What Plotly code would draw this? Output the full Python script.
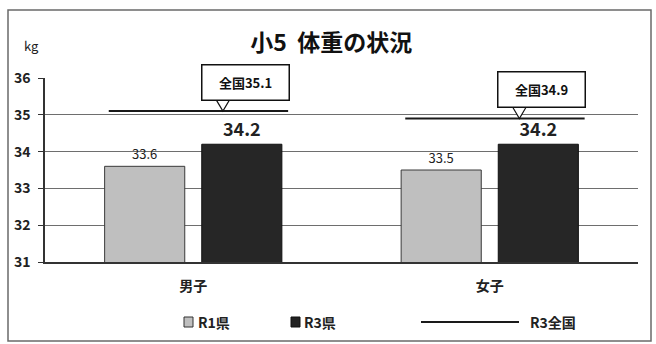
import plotly.graph_objects as go

# Data
categories = ["男子", "女子"]
r1_pref = [33.6, 33.5]      # R1県
r3_pref = [34.2, 34.2]      # R3県
r3_national = [35.1, 34.9]  # R3全国
y_ticks = [31, 32, 33, 34, 35, 36]

FONT = "Noto Sans CJK JP"
x_idx = list(range(len(categories)))

fig = go.Figure()

fig.add_trace(go.Bar(
    x=x_idx, y=r1_pref, name="R1県",
    marker=dict(color="#bfbfbf", line=dict(color="#3a3a3a", width=1)),
    text=[f"{v:.1f}" for v in r1_pref], textposition="outside",
    textfont=dict(family=FONT, size=13, color="#222"),
    cliponaxis=False, showlegend=False,
))
fig.add_trace(go.Bar(
    x=x_idx, y=r3_pref, name="R3県",
    marker=dict(color="#262626", line=dict(color="#111", width=1)),
    text=[f"<b>{v:.1f}</b>" for v in r3_pref], textposition="outside",
    textfont=dict(family=FONT, size=18, color="#222"),
    cliponaxis=False, showlegend=False,
))

# National reference lines spanning each category group
line_x, line_y = [], []
for i, v in zip(x_idx, r3_national):
    line_x += [i - 0.285, i + 0.32, None]
    line_y += [v, v, None]
fig.add_trace(go.Scatter(
    x=line_x, y=line_y, mode="lines", name="R3全国",
    line=dict(color="#1a1a1a", width=2), showlegend=False, cliponaxis=False,
))

shapes = []
annotations = []

# Callouts for the national values
for i, v in zip(x_idx, r3_national):
    tip = i + 0.1
    shapes.append(dict(
        type="path", xref="x", yref="y", layer="above",
        path=f"M {tip-0.022},{v+0.3} L {tip},{v} L {tip+0.022},{v+0.3} Z",
        fillcolor="white", line=dict(color="#111", width=1.2),
    ))
    annotations.append(dict(
        x=i + 0.175, y=v, xref="x", yref="y", yanchor="bottom", yshift=10,
        text=f"<b>全国{v}</b>", showarrow=False, width=84, height=32,
        bgcolor="white", bordercolor="#111", borderwidth=1.5, borderpad=1,
        font=dict(family=FONT, size=13, color="#111"),
    ))

# Unit label
annotations.append(dict(
    x=-0.022, y=1.179, xref="paper", yref="paper",
    xanchor="center", yanchor="middle",
    text="kg", showarrow=False,
    font=dict(family=FONT, size=13, color="#222"),
))

# Hand-placed legend row
def px_x(px):
    return (px - 45) / 593.0

def px_y(py):
    return (262 - py) / 184.0

LEG_Y = px_y(322)
shapes.append(dict(type="rect", xref="paper", yref="paper",
                   x0=px_x(184), x1=px_x(193), y0=px_y(327), y1=px_y(317),
                   fillcolor="#bfbfbf", line=dict(color="#333", width=1)))
annotations.append(dict(x=px_x(196), y=LEG_Y, xref="paper", yref="paper",
                        xanchor="left", yanchor="middle", text="<b>R1県</b>",
                        showarrow=False,
                        font=dict(family=FONT, size=14, color="#222")))
shapes.append(dict(type="rect", xref="paper", yref="paper",
                   x0=px_x(291), x1=px_x(300), y0=px_y(327), y1=px_y(317),
                   fillcolor="#222", line=dict(color="#111", width=1)))
annotations.append(dict(x=px_x(302), y=LEG_Y, xref="paper", yref="paper",
                        xanchor="left", yanchor="middle", text="<b>R3県</b>",
                        showarrow=False,
                        font=dict(family=FONT, size=14, color="#222")))
shapes.append(dict(type="line", xref="paper", yref="paper",
                   x0=px_x(421), x1=px_x(519), y0=LEG_Y, y1=LEG_Y,
                   line=dict(color="#1a1a1a", width=2)))
annotations.append(dict(x=px_x(528), y=LEG_Y, xref="paper", yref="paper",
                        xanchor="left", yanchor="middle", text="<b>R3全国</b>",
                        showarrow=False,
                        font=dict(family=FONT, size=14, color="#222")))

# Outer frame
shapes.append(dict(type="rect", xref="paper", yref="paper",
                   x0=px_x(8), x1=px_x(651), y0=px_y(341), y1=px_y(10),
                   line=dict(color="#6a6a6a", width=1.5), layer="below"))

fig.update_layout(
    width=656, height=344,
    margin=dict(l=45, r=18, t=78, b=82),
    paper_bgcolor="white", plot_bgcolor="white",
    barmode="group", bargap=0.345, bargroupgap=0.175,
    title=dict(text="<b>小5  体重の状況</b>", x=0.505, xanchor="center",
               y=0.875, yanchor="middle",
               font=dict(family=FONT, size=23, color="#111")),
    font=dict(family=FONT, color="#222"),
    shapes=shapes, annotations=annotations,
    showlegend=False,
)
fig.update_xaxes(
    range=[-0.5, 1.5], tickvals=x_idx,
    ticktext=[f"<b>{c}</b>" for c in categories],
    tickfont=dict(family=FONT, size=14, color="#222"),
    showline=True, linecolor="#333", linewidth=1.5,
    showgrid=False, ticks="", ticklabelstandoff=10, zeroline=False,
)
fig.update_yaxes(
    range=[31, 36], tickvals=y_ticks,
    ticktext=[f"<b>{t}</b>" for t in y_ticks],
    tickfont=dict(family=FONT, size=14, color="#222"),
    showgrid=True, gridcolor="#6e6e6e", gridwidth=1,
    showline=True, linecolor="#333", linewidth=1.5,
    ticks="outside", ticklen=5, tickcolor="#333", zeroline=False,
    ticklabelstandoff=5,
)

fig.write_html("out.html")
